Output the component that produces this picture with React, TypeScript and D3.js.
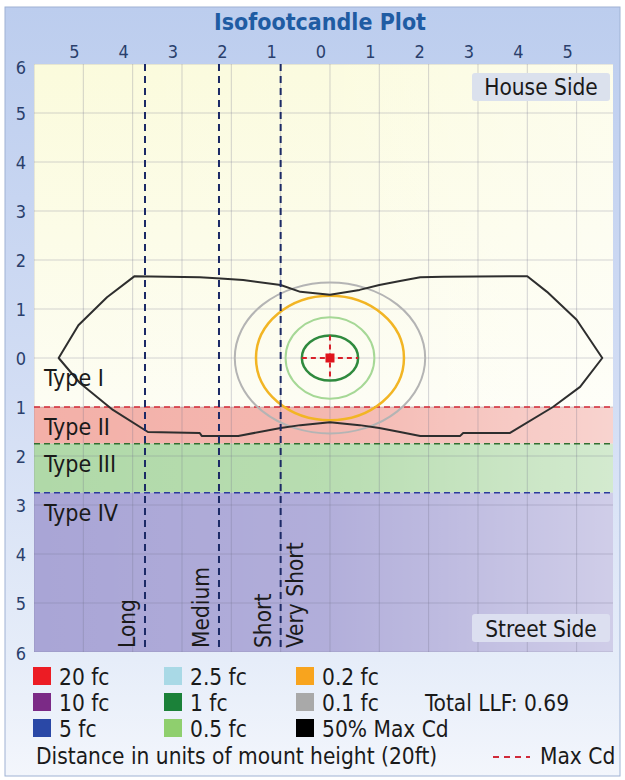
import React from "react";
import * as d3 from "d3";

// ---------- data ----------
const xTicks = [-5, -4, -3, -2, -1, 0, 1, 2, 3, 4, 5];
const yTicks = [6, 5, 4, 3, 2, 1, 0, -1, -2, -3, -4, -5, -6];
const gridX = [-6, -5, -4, -3, -2, -1, 0, 1, 2, 3, 4, 5, 6];
const gridY = [-6, -5, -4, -3, -2, -1, 0, 1, 2, 3, 4, 5, 6];

// lateral distance classification lines (house side negative)
const distLineX = [-3.75, -2.25, -1.0];
const distLabels = [
  { x: -3.75, label: "Long", side: "left" },
  { x: -2.25, label: "Medium", side: "left" },
  { x: -1.0, label: "Short", side: "left" },
  { x: -1.0, label: "Very Short", side: "right" },
];

// Type bands (y in mount heights, street side negative)
const bands = [
  { from: -1.0, to: -1.75, color: "#f3b0a8", line: "#d42a36", label: "Type II" },
  { from: -1.75, to: -2.75, color: "#b0d9a8", line: "#2f6e2f", label: "Type III" },
  { from: -2.75, to: -6, color: "#a9a5d6", line: "#2b3a9c", label: "Type IV" },
];
const typeLabels = [
  { label: "Type I", y: -0.57 },
  { label: "Type II", y: -1.57 },
  { label: "Type III", y: -2.33 },
  { label: "Type IV", y: -3.33 },
];

// iso-footcandle contours (semi-axes in mount heights)
const isoContours = [
  { level: "0.1 fc", rx: 1.93, ry: 1.54, color: "#b4b4b4", w: 2 },
  { level: "0.2 fc", rx: 1.5, ry: 1.27, color: "#f2b524", w: 2.5 },
  { level: "0.5 fc", rx: 0.9, ry: 0.83, color: "#a6d896", w: 2 },
  { level: "1 fc", rx: 0.57, ry: 0.46, color: "#2f8a3e", w: 2.5 },
];

// 50% Max Cd trace
const maxCdX = [
  -5.5, -5.1, -4.52, -3.96, -2.64, -2.3, -1.76, -1.0, -0.6, 0, 0.6, 1.0, 1.42, 1.83, 2.3, 4.0, 4.4, 5.0, 5.52,
  5.07, 4.52, 3.65, 2.7, 2.64, 1.83, 1.42, 1.0, 0.6, 0, -0.6, -1.0, -1.86, -2.6, -2.64, -3.69, -4.4, -5.07,
];
const maxCdY = [
  0, 0.67, 1.24, 1.67, 1.65, 1.63, 1.59, 1.49, 1.35, 1.29, 1.39, 1.49, 1.57, 1.65, 1.66, 1.67, 1.35, 0.78, 0,
  -0.59, -1.0, -1.53, -1.53, -1.59, -1.59, -1.51, -1.43, -1.37, -1.31, -1.37, -1.43, -1.59, -1.59, -1.53, -1.51, -1.06, -0.51,
];
const maxCdPoint = { x: 0, y: 0 };

const legendLabels = [
  ["20 fc", "10 fc", "5 fc"],
  ["2.5 fc", "1 fc", "0.5 fc"],
  ["0.2 fc", "0.1 fc", "50% Max Cd"],
];
const legendColors = [
  ["#ec1c24", "#7b2a86", "#2a48a6"],
  ["#a9d9e6", "#1b8139", "#8fcf6e"],
  ["#f8a41e", "#a9a9a9", "#000000"],
];
const totalLLF = "Total LLF: 0.69";
const title = "Isofootcandle Plot";

// ---------- layout ----------
const W = 625;
const H = 780;
const PL = 34;
const PR = 613;
const PT = 64;
const PB = 652;

const FONT = "'DejaVu Sans Condensed', 'DejaVu Sans', sans-serif";

export default function App() {
  const x = d3.scaleLinear().domain([-6, 6]).range([PL, PL + 12 * 49.33]);
  const y = d3.scaleLinear().domain([-6, 6]).range([PB, PT]);

  const line = d3
    .line<number>()
    .x((_, i) => x(maxCdX[i]))
    .y((_, i) => y(maxCdY[i]))
    .curve(d3.curveLinearClosed);

  const cx = x(0);
  const cy = y(0);
  const ring1 = isoContours[3];
  const legendX = [33, 164, 296];
  const legendBase = [685, 711, 737];

  return (
    <svg
      width={W}
      height={H}
      style={{ position: "absolute", left: 0, top: 0, fontFamily: FONT, fontStretch: "condensed" }}
    >
      <defs>
        <linearGradient id="frameG" x1="0" y1="0" x2="0" y2="1">
          <stop offset="0" stopColor="#bccdee" />
          <stop offset="0.5" stopColor="#d2ddf4" />
          <stop offset="0.85" stopColor="#e6edf9" />
          <stop offset="1" stopColor="#f3f6fc" />
        </linearGradient>
        <linearGradient id="creamG" x1="0" y1="0" x2="0" y2="1">
          <stop offset="0" stopColor="#fbfbdc" />
          <stop offset="1" stopColor="#fdfdf3" />
        </linearGradient>
        <linearGradient id="fadeG" x1="0" y1="0" x2="1" y2="0">
          <stop offset="0" stopColor="#ffffff" stopOpacity="0" />
          <stop offset="0.5" stopColor="#ffffff" stopOpacity="0.1" />
          <stop offset="1" stopColor="#ffffff" stopOpacity="0.45" />
        </linearGradient>
        <clipPath id="plotClip">
          <rect x={PL} y={PT} width={PR - PL} height={PB - PT} />
        </clipPath>
      </defs>

      {/* outer frame */}
      <rect x={5} y={7} width={615} height={769} fill="url(#frameG)" stroke="#9fb2d4" strokeWidth={1} />

      {/* title */}
      <text x={320} y={30} textAnchor="middle" fontSize={23} fontWeight="bold" fill="#1f5ca3">
        {title}
      </text>

      <g clipPath="url(#plotClip)">
        {/* backgrounds */}
        <rect x={PL} y={PT} width={PR - PL} height={y(-1.0) - PT} fill="url(#creamG)" />
        {bands.map((b) => (
          <rect key={b.label} x={PL} y={y(b.from)} width={PR - PL} height={y(b.to) - y(b.from)} fill={b.color} />
        ))}
        <rect x={PL} y={PT} width={PR - PL} height={PB - PT} fill="url(#fadeG)" />

        {/* grid */}
        {gridX.map((v) => (
          <line key={"gx" + v} x1={x(v)} x2={x(v)} y1={PT} y2={PB} stroke="#6f6f8a" strokeOpacity={0.3} strokeWidth={1} />
        ))}
        {gridY.map((v) => (
          <line key={"gy" + v} x1={PL} x2={PR} y1={y(v)} y2={y(v)} stroke="#6f6f8a" strokeOpacity={0.3} strokeWidth={1} />
        ))}

        {/* band boundary dashed lines */}
        {bands.map((b) => (
          <line
            key={"bl" + b.label}
            x1={PL}
            x2={PR}
            y1={y(b.from)}
            y2={y(b.from)}
            stroke={b.line}
            strokeWidth={1.6}
            strokeDasharray="6 4"
          />
        ))}

        {/* iso contours */}
        {isoContours.map((c) => (
          <ellipse
            key={c.level}
            cx={cx}
            cy={cy}
            rx={x(c.rx) - cx}
            ry={cy - y(c.ry)}
            fill="none"
            stroke={c.color}
            strokeWidth={c.w}
          />
        ))}

        {/* 50% max cd */}
        <path d={line(maxCdX) || ""} fill="none" stroke="#2e2e2e" strokeWidth={2} strokeLinejoin="round" />

        {/* max cd marker */}
        <line
          x1={x(maxCdPoint.x - ring1.rx)}
          x2={x(maxCdPoint.x + ring1.rx)}
          y1={y(maxCdPoint.y)}
          y2={y(maxCdPoint.y)}
          stroke="#d8202a"
          strokeWidth={2}
          strokeDasharray="5 4"
        />
        <line
          x1={x(maxCdPoint.x)}
          x2={x(maxCdPoint.x)}
          y1={y(maxCdPoint.y + ring1.ry)}
          y2={y(maxCdPoint.y - ring1.ry)}
          stroke="#d8202a"
          strokeWidth={2}
          strokeDasharray="5 4"
        />
        <rect x={x(maxCdPoint.x) - 4.5} y={y(maxCdPoint.y) - 4.5} width={9} height={9} fill="#e0141c" />

        {/* distance classification lines */}
        {distLineX.map((v) => (
          <line
            key={"dl" + v}
            x1={x(v)}
            x2={x(v)}
            y1={PT}
            y2={PB}
            stroke="#1c2a66"
            strokeWidth={2}
            strokeDasharray="7 5"
          />
        ))}
        {distLabels.map((d) => (
          <text
            key={d.label}
            transform={`translate(${d.side === "left" ? x(d.x) - 10 : x(d.x) + 22},${PB - 4}) rotate(-90)`}
            fontSize={22.5}
            fill="#1a1a1a"
          >
            {d.label}
          </text>
        ))}

        {/* Type labels */}
        {typeLabels.map((t) => (
          <text key={t.label} x={44} y={y(t.y)} fontSize={23} fill="#1a1a1a">
            {t.label}
          </text>
        ))}

        {/* side labels */}
        <rect x={472} y={73} width={138} height={28} rx={3} fill="#dbe1ed" />
        <text x={541} y={95} textAnchor="middle" fontSize={22.5} fill="#1a1a1a">
          House Side
        </text>
        <rect x={472} y={614} width={138} height={28} rx={3} fill="#dcdff0" />
        <text x={541} y={637} textAnchor="middle" fontSize={22.5} fill="#1a1a1a">
          Street Side
        </text>
      </g>

      {/* axes labels */}
      {xTicks.map((v) => (
        <text key={"xt" + v} x={x(v) - 9} y={58} textAnchor="middle" fontSize={18} fill="#2a3f6c">
          {Math.abs(v)}
        </text>
      ))}
      {yTicks.map((v) => (
        <text
          key={"yt" + v}
          x={21}
          y={y(v) + 7 + (v === 6 ? 3 : v === -6 ? 1 : 0)}
          textAnchor="middle"
          fontSize={18}
          fill="#2a3f6c"
        >
          {Math.abs(v)}
        </text>
      ))}

      {/* legend */}
      {legendLabels.map((col, ci) =>
        col.map((lab, ri) => (
          <g key={lab}>
            <rect x={legendX[ci]} y={legendBase[ri] - 18} width={18} height={18} fill={legendColors[ci][ri]} />
            <text x={legendX[ci] + 26} y={legendBase[ri]} fontSize={22.5} fill="#1a1a1a">
              {lab}
            </text>
          </g>
        ))
      )}
      <text x={425} y={711} fontSize={22.5} fill="#1a1a1a">
        {totalLLF}
      </text>
      <text x={36} y={764} fontSize={22.5} fill="#1a1a1a">
        Distance in units of mount height (20ft)
      </text>
      <line x1={493} x2={530} y1={757} y2={757} stroke="#d02a3a" strokeWidth={2} strokeDasharray="6 5" />
      <text x={540} y={764} fontSize={22.5} fill="#1a1a1a">
        Max Cd
      </text>
    </svg>
  );
}
